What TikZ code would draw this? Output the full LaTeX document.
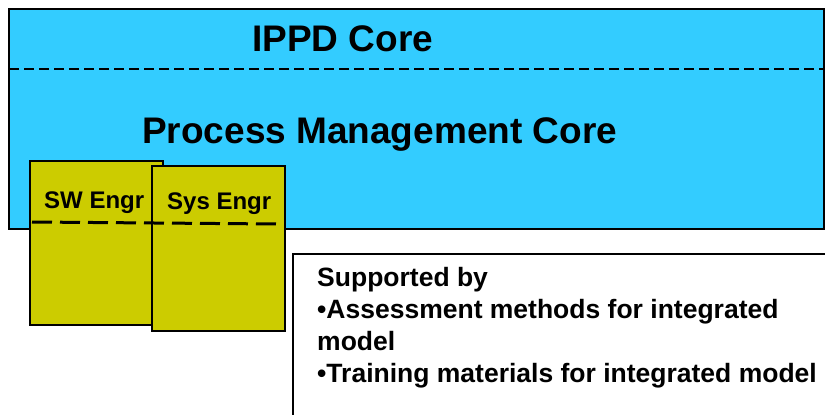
\documentclass[tikz,border=0pt]{standalone}
\usepackage{fontspec}
\setmainfont{Liberation Sans}
\definecolor{corecyan}{HTML}{33CCFF}
\definecolor{engryellow}{HTML}{CCCC00}
\tikzset{
  corebox/.style={draw=black, line width=2pt, fill=corecyan},
  engrbox/.style={draw=black, line width=2pt, fill=engryellow},
  supportbox/.style={draw=black, line width=2pt, fill=white},
  coredash/.style={line width=1.5pt, dash pattern=on 10pt off 5pt},
  engrdash/.style={line width=3pt, dash pattern=on 20pt off 8pt},
  bigtitle/.style={font=\fontsize{37}{40}\selectfont\bfseries, inner sep=0pt, anchor=base west},
  engrtitle/.style={font=\fontsize{24}{26}\selectfont\bfseries, inner sep=0pt, anchor=base west},
  supporttext/.style={font=\fontsize{26.5}{32}\selectfont\bfseries, inner sep=0pt, anchor=north west, align=left}
}
\begin{document}
\begin{tikzpicture}[x=1pt, y=-1pt]
  \useasboundingbox (0,0) rectangle (825,415);
  \clip (0,0) rectangle (825,415);

  % outer IPPD / process management core
  \draw[corebox] (9,9) rectangle (824,229);
  \coordinate (coreL) at (9,69);
  \coordinate (coreR) at (824,69);
  \draw[coredash] (coreL) -- (coreR);
  \node[bigtitle] (ippd) at (252,51) {IPPD Core};
  \node[bigtitle] (pmc) at (142,143) {Process Management Core};

  % discipline boxes
  \draw[engrbox] (30,161) rectangle (163,325);
  \draw[engrbox] (152,166) rectangle (285,331);
  \coordinate (engrL) at (32,222);
  \coordinate (engrR) at (277,224);
  \draw[engrdash] (engrL) -- (engrR);
  \node[engrtitle] (sw) at (44,208) {SW Engr};
  \node[engrtitle] (sys) at (167,209) {Sys Engr};

  % support box
  \draw[supportbox] (293,254) rectangle (840,430);
  \node[supporttext] (support) at (317,267) {Supported by\\
    •Assessment methods for integrated\\
    model\\
    •Training materials for integrated model};
\end{tikzpicture}
\end{document}
